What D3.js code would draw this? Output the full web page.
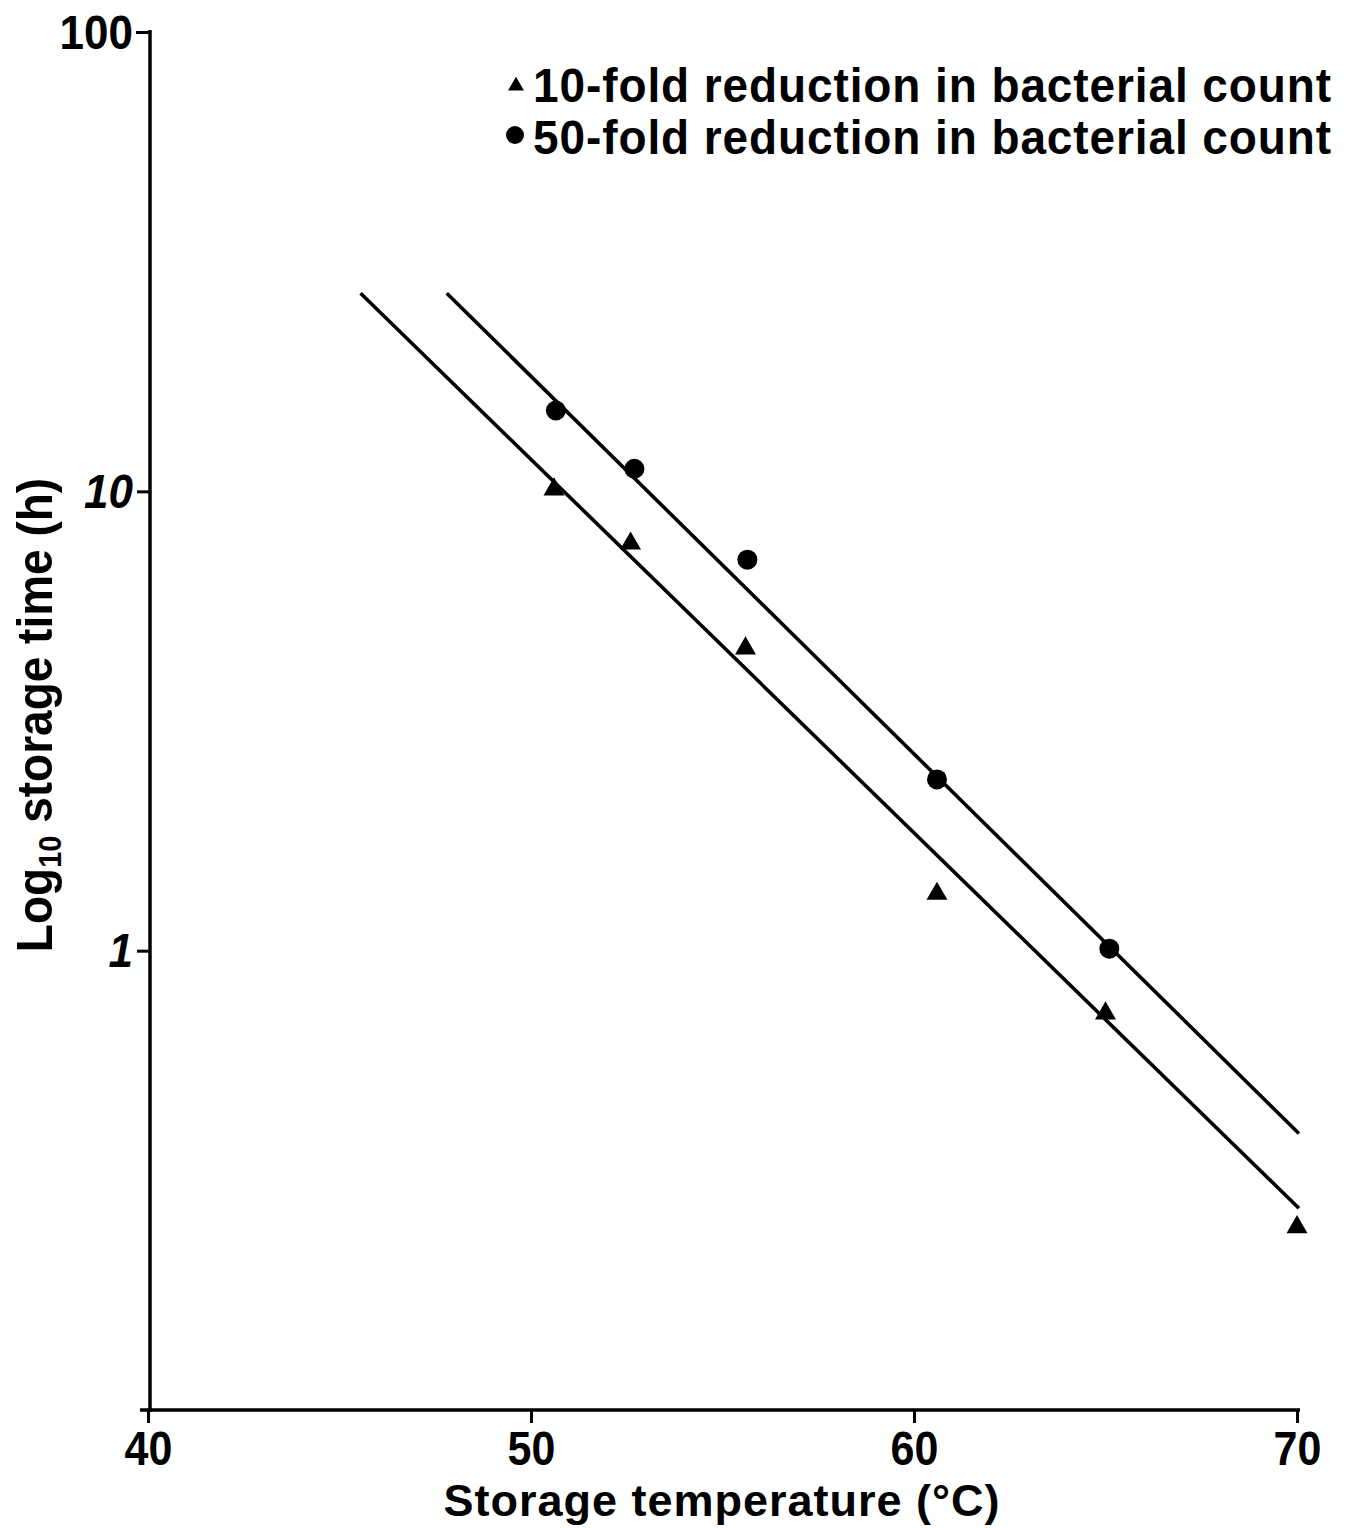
<!DOCTYPE html>
<html><head><meta charset="utf-8">
<script src="https://cdn.jsdelivr.net/npm/d3@7"></script>
<style>
html,body{margin:0;padding:0;background:#fff;}
text{font-family:"Liberation Sans",Arial,sans-serif;font-weight:bold;fill:#000;}
</style></head>
<body>
<svg id="chart" width="1354" height="1528"></svg>
<script>
// ---- data ----
const xTicks = [40, 50, 60, 70];
const yTicks = [1, 10, 100];
const yTickLabels = ["1", "10", "100"];
const tenFoldTemp = [50.6, 52.6, 55.6, 60.6, 65.0, 70.0];
const tenFoldTime = [10.1, 7.7, 4.55, 1.33, 0.73, 0.25];
const fiftyFoldTemp = [50.65, 52.7, 55.65, 60.6, 65.1];
const fiftyFoldTime = [15.0, 11.2, 7.1, 2.36, 1.01];
const tenFoldFitTemp = [45.55, 70.05];
const tenFoldFitTime = [27.0, 0.275];
const fiftyFoldFitTemp = [47.8, 70.05];
const fiftyFoldFitTime = [27.0, 0.40];
const legendLabels = ["10-fold reduction in bacterial count", "50-fold reduction in bacterial count"];
const xTitle = "Storage temperature (°C)";

// ---- layout ----
const svg = d3.select("#chart");
const x = d3.scaleLinear().domain([40, 70]).range([148, 1297]);
const y = d3.scaleLog().domain([0.1, 100]).range([1410, 32]);
const K = 1.1; // vertical stretch of scanned text

// axes
const xAxis = d3.axisBottom(x).tickValues(xTicks).tickSize(13).tickSizeOuter(0).tickFormat(d3.format("d"));
const gx = svg.append("g").attr("transform", `translate(0,${y(0.1)})`).call(xAxis);
gx.select(".domain").attr("stroke-width", 3.5).attr("d", `M${x(40)-8},0H${x(70)+3}`);
gx.selectAll(".tick line").attr("stroke-width", 3);
gx.selectAll(".tick text").attr("dy", null).attr("y", 55 / K)
  .attr("transform", `scale(1,${K})`).style("font-size", "43px");

const yAxis = d3.axisLeft(y).tickValues(yTicks).tickSize(13).tickSizeOuter(0)
  .tickFormat((d, i) => yTickLabels[i]);
const gy = svg.append("g").attr("transform", `translate(${x(40)+2},0)`).call(yAxis);
gy.select(".domain").attr("stroke-width", 3.5).attr("d", `M0,${y(100)-2}V${y(0.1)+2}`);
gy.selectAll(".tick line").attr("stroke-width", 3);
gy.selectAll(".tick text").attr("x", -17).attr("dy", null)
  .attr("y", 16 / K).attr("transform", `scale(1,${K})`)
  .style("font-size", "44px")
  .style("font-style", d => d === 100 ? "normal" : "italic");
gy.selectAll(".tick").filter(d => d === 100).select("line").attr("x2", -14);

// fit lines
const line = d3.line().x(d => x(d[0])).y(d => y(d[1]));
const fits = [
  d3.zip(tenFoldFitTemp, tenFoldFitTime),
  d3.zip(fiftyFoldFitTemp, fiftyFoldFitTime)
];
svg.append("g").selectAll("path").data(fits).join("path")
  .attr("d", line).attr("fill", "none").attr("stroke", "#000").attr("stroke-width", 3.6);

// points
const tri = d3.symbol().type(d3.symbolTriangle).size(190);
svg.append("g").selectAll("path").data(d3.zip(tenFoldTemp, tenFoldTime)).join("path")
  .attr("d", tri).attr("transform", d => `translate(${x(d[0])},${y(d[1])})`).attr("fill", "#000");
svg.append("g").selectAll("circle").data(d3.zip(fiftyFoldTemp, fiftyFoldTime)).join("circle")
  .attr("cx", d => x(d[0])).attr("cy", d => y(d[1])).attr("r", 10).attr("fill", "#000");

// legend
const lg = svg.append("g");
lg.append("path").attr("d", d3.symbol().type(d3.symbolTriangle).size(110)).attr("transform", "translate(516,86)");
lg.append("circle").attr("cx", 515).attr("cy", 135).attr("r", 9);
legendLabels.forEach((t, i) => {
  lg.append("text").attr("transform", `translate(533,${102 + i * 52}) scale(1,1.05)`)
    .style("font-size", "46px").style("letter-spacing", "0.9px").text(t);
});

// x title
svg.append("text").attr("transform", `translate(722,1516)`)
  .attr("text-anchor", "middle").style("font-size", "45px").style("letter-spacing", "1px").text(xTitle);

// y title
const yt = svg.append("text").attr("transform", `translate(52,715) rotate(-90) scale(1,${K})`)
  .attr("text-anchor", "middle").style("font-size", "46px");
yt.append("tspan").text("Log");
yt.append("tspan").attr("dy", 8).style("font-size", "29px").text("10");
yt.append("tspan").attr("dy", -8).text(" storage time (h)");
</script>
</body></html>
